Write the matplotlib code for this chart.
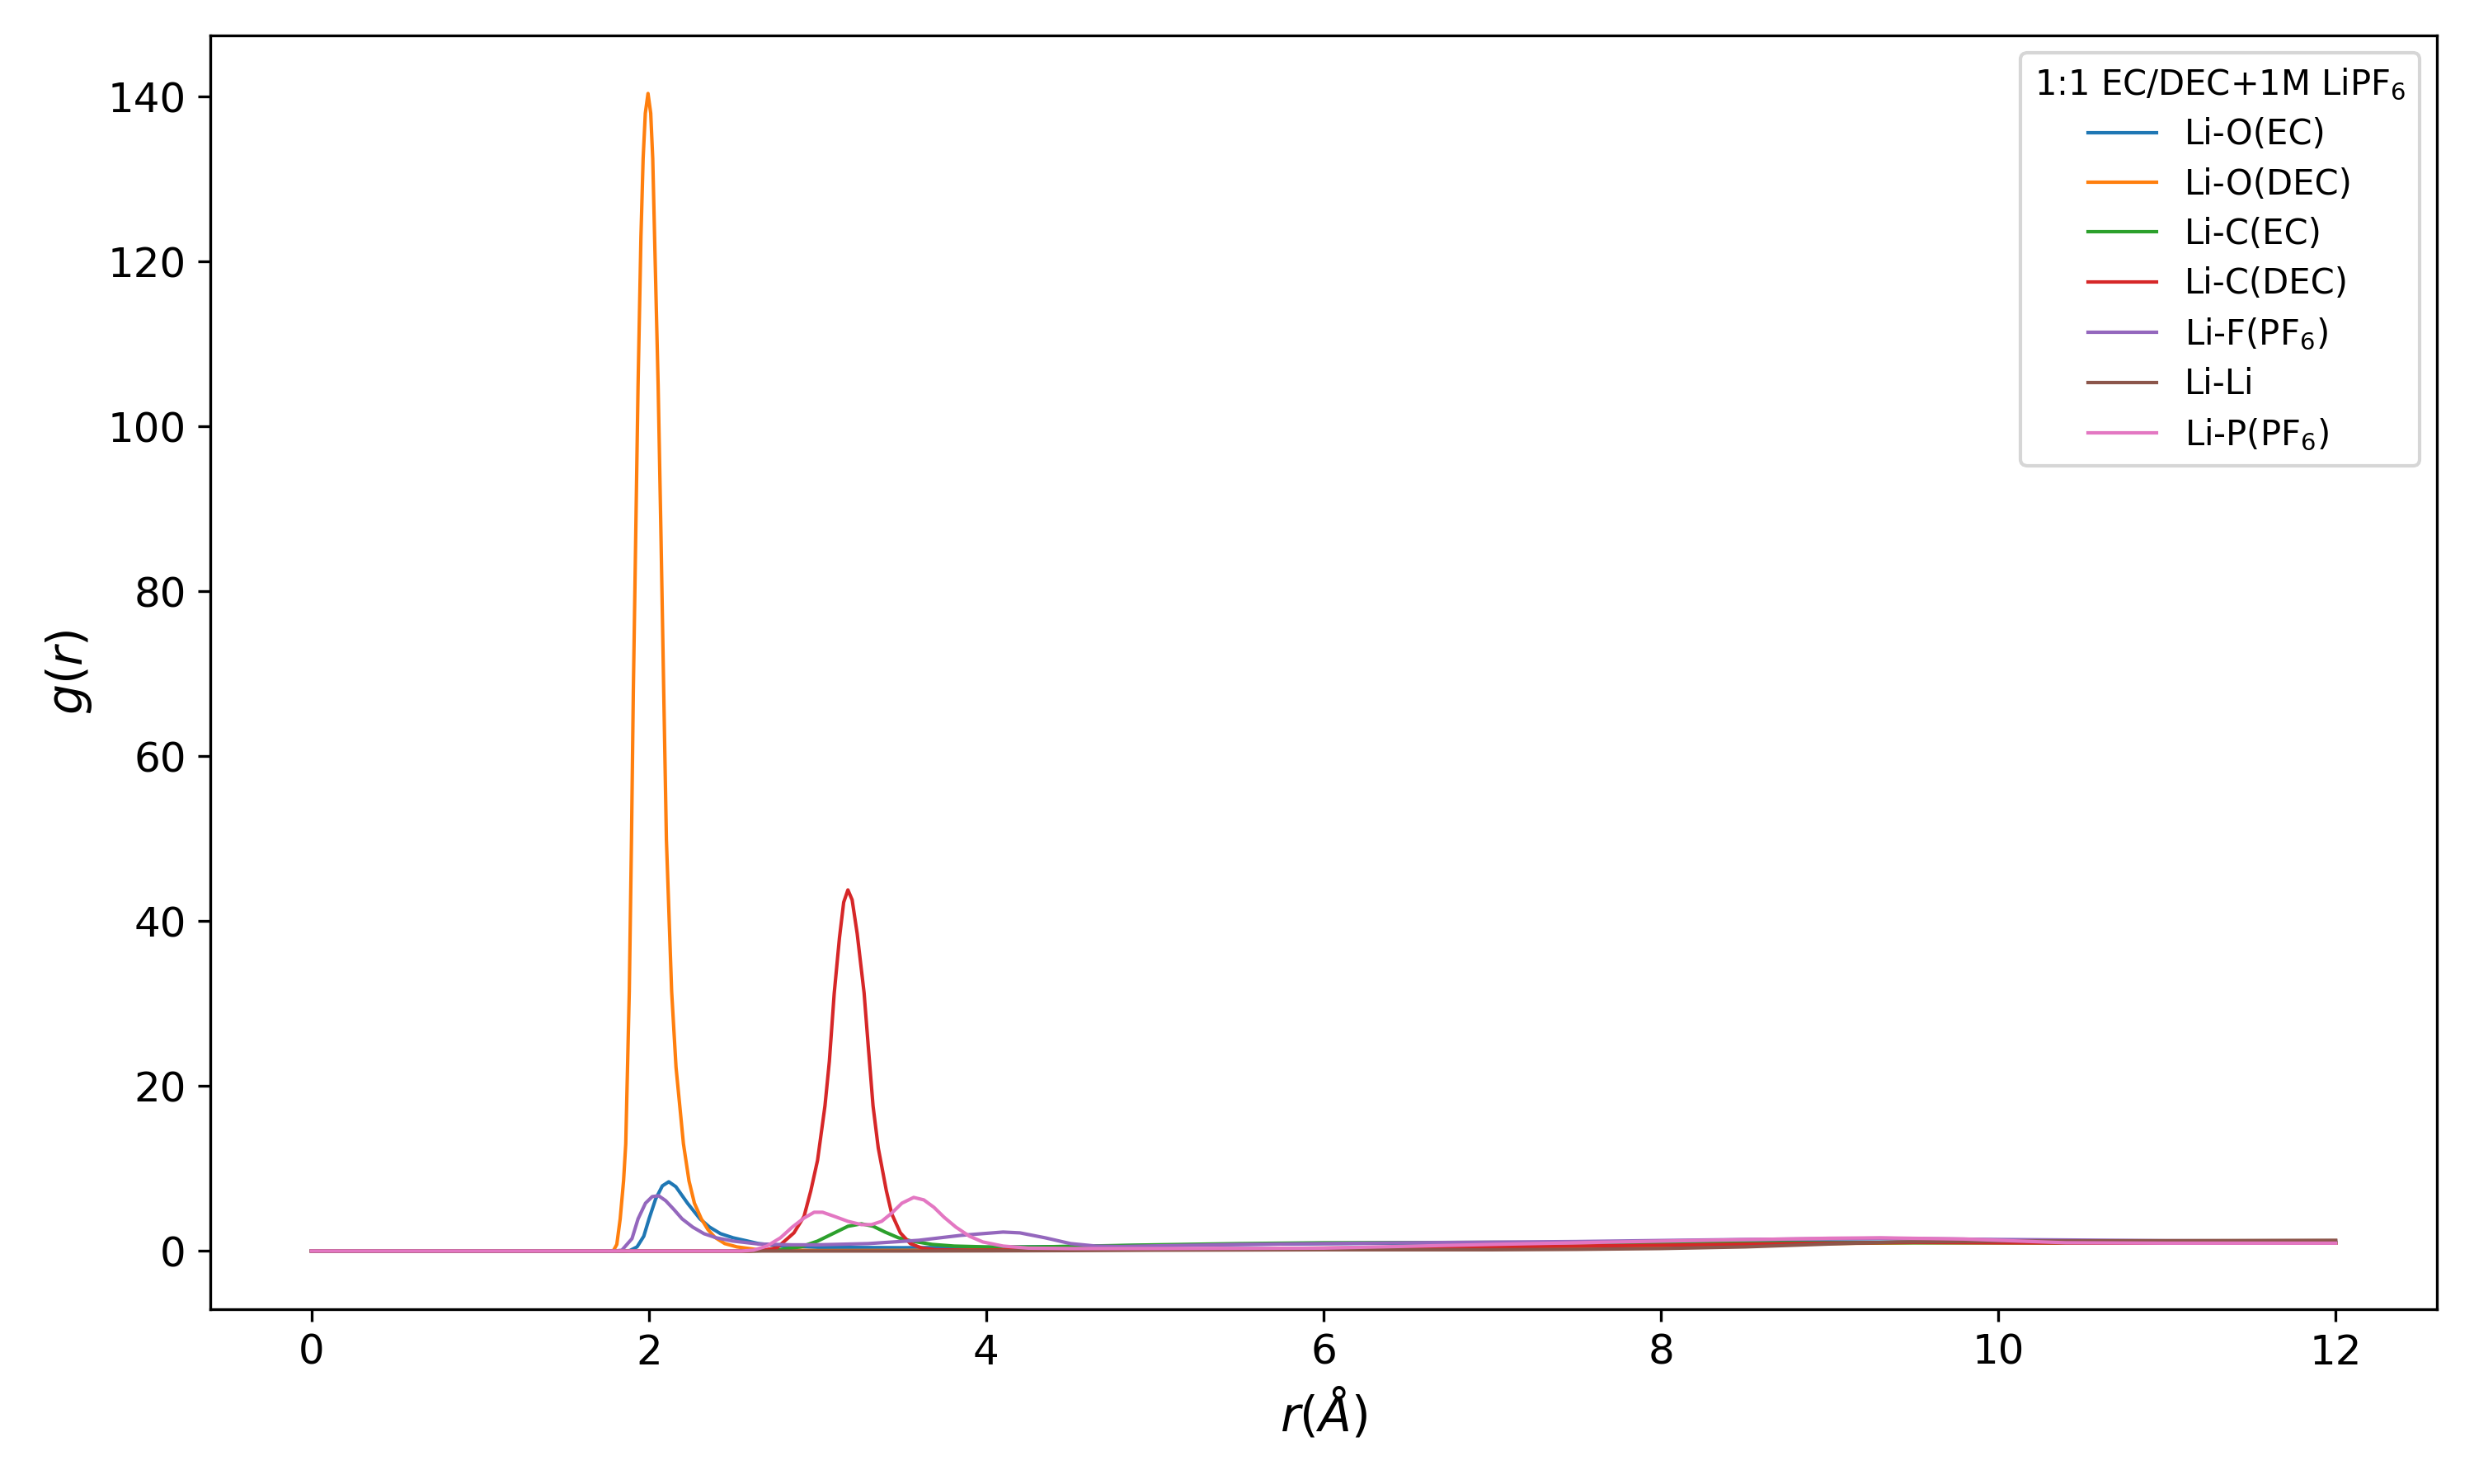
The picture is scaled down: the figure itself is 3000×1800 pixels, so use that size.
import numpy as np
import matplotlib
matplotlib.use("Agg")
import matplotlib.pyplot as plt

# -------- DATA --------
r_o_ec = [0.0, 1.85, 1.887, 1.93, 1.97, 2.001, 2.04, 2.08, 2.118, 2.16, 2.229, 2.303, 2.36, 2.425,
          2.50, 2.587, 2.65, 2.8, 3.0, 3.5, 4.0, 4.5, 5.0, 6.0, 7.0, 8.0, 9.0, 10.0, 11.0, 12.0]
g_o_ec = [0.0, 0.0, 0.05, 0.5, 1.8, 3.9, 6.3, 7.9, 8.4, 7.8, 5.8, 3.9, 2.9, 2.1,
          1.6, 1.2, 0.9, 0.6, 0.45, 0.4, 0.45, 0.55, 0.7, 0.9, 1.0, 1.05, 1.1, 1.05, 1.0, 1.0]

r_o_dec = [0.0, 1.75, 1.79, 1.81, 1.83, 1.85, 1.863, 1.884, 1.897, 1.908, 1.922, 1.936, 1.953, 1.966,
           1.979, 1.995, 2.011, 2.023, 2.034, 2.055, 2.072, 2.088, 2.104, 2.135, 2.161, 2.205,
           2.238, 2.27, 2.311, 2.35, 2.392, 2.45, 2.522, 2.65, 3.0, 4.0, 5.0, 6.0, 7.0, 8.0,
           9.0, 9.5, 10.0, 11.0, 12.0]
g_o_dec = [0.0, 0.0, 0.05, 0.8, 3.9, 8.5, 13.0, 31.5, 49.9, 68.0, 86.6, 105.0, 123.0, 132.5,
           138.0, 140.4, 138.0, 132.5, 123.0, 105.0, 86.6, 68.0, 49.9, 31.5, 22.3, 13.0,
           8.5, 5.8, 3.9, 2.6, 1.65, 0.9, 0.5, 0.15, 0.05, 0.1, 0.2, 0.3, 0.45, 0.65,
           0.9, 1.0, 1.0, 0.95, 0.95]

r_c_ec = [0.0, 2.6, 2.75, 2.9, 3.0, 3.1, 3.18, 3.26, 3.33, 3.40, 3.48, 3.56, 3.68, 3.81, 4.0,
          4.3, 4.6, 5.0, 5.5, 6.0, 7.0, 8.0, 9.0, 10.0, 11.0, 12.0]
g_c_ec = [0.0, 0.0, 0.1, 0.5, 1.2, 2.2, 3.0, 3.3, 3.0, 2.3, 1.6, 1.2, 0.8, 0.6, 0.5,
          0.5, 0.6, 0.75, 0.9, 1.0, 1.05, 1.0, 1.0, 1.0, 1.0, 1.0]

r_c_dec = [0.0, 2.60, 2.68, 2.76, 2.86, 2.92, 2.96, 3.00, 3.044, 3.07, 3.099, 3.13, 3.155, 3.18,
           3.205, 3.235, 3.276, 3.30, 3.329, 3.36, 3.408, 3.44, 3.491, 3.55, 3.62, 3.70, 3.9,
           5.0, 6.0, 7.0, 8.0, 9.0, 9.5, 10.0, 11.0, 12.0]
g_c_dec = [0.0, 0.0, 0.1, 0.4, 2.2, 4.2, 7.3, 11.0, 17.6, 23.0, 31.3, 38.0, 42.3, 43.8,
           42.6, 38.5, 31.3, 25.0, 17.6, 12.5, 7.3, 4.5, 2.2, 0.9, 0.35, 0.15, 0.1,
           0.2, 0.35, 0.5, 0.7, 0.95, 1.05, 1.0, 0.95, 0.95]

r_f_pf6 = [0.0, 1.80, 1.84, 1.90, 1.936, 1.98, 2.02, 2.058, 2.10, 2.15, 2.197, 2.26, 2.327, 2.40,
           2.50, 2.65, 2.85, 3.0, 3.3, 3.6, 3.85, 4.1, 4.2, 4.35, 4.5, 4.65, 4.8, 5.5, 6.5,
           7.5, 8.5, 9.3, 10.0, 11.0, 12.0]
g_f_pf6 = [0.0, 0.0, 0.1, 1.5, 3.9, 5.8, 6.6, 6.7, 6.1, 5.0, 3.9, 2.9, 2.1, 1.6,
           1.2, 0.85, 0.75, 0.75, 0.9, 1.3, 1.9, 2.3, 2.2, 1.6, 0.9, 0.6, 0.55, 0.8, 1.0,
           1.15, 1.4, 1.55, 1.4, 1.25, 1.2]

r_li_li = [0.0, 3.5, 4.0, 4.5, 5.0, 6.0, 7.0, 7.5, 8.0, 8.5, 9.0, 9.4, 10.0, 11.0, 12.0]
g_li_li = [0.0, 0.0, 0.02, 0.05, 0.1, 0.15, 0.15, 0.2, 0.3, 0.5, 0.85, 1.1, 1.2, 1.25, 1.3]

r_p_pf6 = [0.0, 2.55, 2.62, 2.70, 2.78, 2.85, 2.92, 2.98, 3.03, 3.10, 3.18, 3.26, 3.32, 3.38,
           3.44, 3.50, 3.57, 3.63, 3.69, 3.75, 3.82, 3.90, 3.98, 4.10, 4.25, 4.5, 5.0, 6.0,
           7.0, 8.0, 9.0, 9.3, 9.8, 10.4, 11.0, 12.0]
g_p_pf6 = [0.0, 0.0, 0.1, 0.6, 1.6, 2.9, 4.0, 4.7, 4.7, 4.2, 3.6, 3.2, 3.2, 3.6,
           4.6, 5.8, 6.5, 6.2, 5.3, 4.1, 2.9, 1.8, 1.1, 0.6, 0.35, 0.3, 0.3, 0.35,
           0.8, 1.2, 1.55, 1.6, 1.45, 1.0, 0.95, 0.95]

labels = ["Li-O(EC)", "Li-O(DEC)", "Li-C(EC)", "Li-C(DEC)",
          "Li-F(PF$_6$)", "Li-Li", "Li-P(PF$_6$)"]
series = [(r_o_ec, g_o_ec), (r_o_dec, g_o_dec), (r_c_ec, g_c_ec), (r_c_dec, g_c_dec),
          (r_f_pf6, g_f_pf6), (r_li_li, g_li_li), (r_p_pf6, g_p_pf6)]

# -------- PLOT --------
fig, ax = plt.subplots(figsize=(10, 6), dpi=300)

for (r, g), lab in zip(series, labels):
    ax.plot(r, g, lw=1, label=lab)

ax.set_xlabel("$r(Å)$", fontsize=14)
ax.set_ylabel("$g(r)$", fontsize=14)
ax.tick_params(labelsize=12)
ax.legend(title="1:1 EC/DEC+1M LiPF$_6$", loc="upper right", fontsize=10,
          title_fontsize=10, labelspacing=0.44)

fig.subplots_adjust(left=0.085, right=0.985, top=0.976, bottom=0.118)
fig.savefig("out.png")
